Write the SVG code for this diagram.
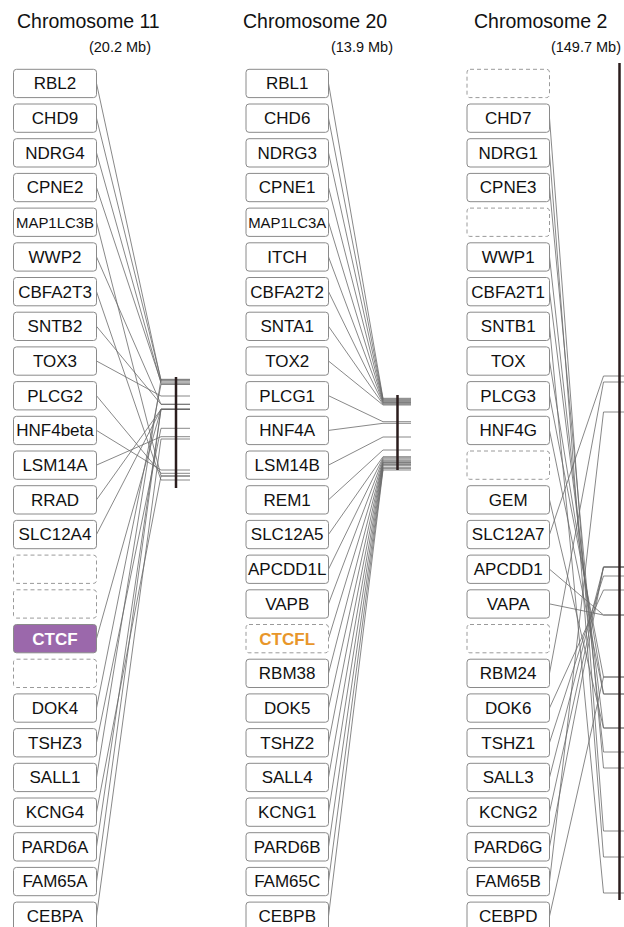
<svg xmlns="http://www.w3.org/2000/svg" width="624" height="927" viewBox="0 0 624 927">
<style>
.box{fill:#fff;stroke:#8a8a8a;stroke-width:1}
.dash{fill:#fff;stroke:#9a9a9a;stroke-width:1;stroke-dasharray:4 3}
.lbl{font-family:"Liberation Sans",Arial,sans-serif;font-size:17px;fill:#111;text-anchor:middle}
.title{font-family:"Liberation Sans",Arial,sans-serif;font-size:19.5px;fill:#111;text-anchor:start}
.sub{font-family:"Liberation Sans",Arial,sans-serif;font-size:14.5px;fill:#111;text-anchor:end}
.ln{fill:none;stroke:#6a6a6a;stroke-width:0.8}
.bar{stroke:#2b1d1d;stroke-width:2.5}
</style>
<g id="titles">
<text class="title" x="17" y="28">Chromosome 11</text>
<text class="sub" x="151" y="52">(20.2 Mb)</text>
<text class="title" x="243" y="28">Chromosome 20</text>
<text class="sub" x="393" y="52">(13.9 Mb)</text>
<text class="title" x="474" y="28">Chromosome 2</text>
<text class="sub" x="621" y="52">(149.7 Mb)</text>
</g>
<g id="connectors">
<!-- chr11 -->
<polyline class="ln" points="96.5,83.4 161,380.7 190,380.7"/>
<polyline class="ln" points="96.5,118.1 161,379.8 190,379.8"/>
<polyline class="ln" points="96.5,152.8 161,383.3 190,383.3"/>
<polyline class="ln" points="96.5,187.5 161,382 190,382"/>
<polyline class="ln" points="96.5,222.2 161,476 190,476"/>
<polyline class="ln" points="96.5,256.9 161,404.3 190,404.3"/>
<polyline class="ln" points="96.5,291.6 161,480 190,480"/>
<polyline class="ln" points="96.5,326.3 161,404.3 190,404.3"/>
<polyline class="ln" points="96.5,361 161,396 190,396"/>
<polyline class="ln" points="96.5,395.7 161,473.3 190,473.3"/>
<polyline class="ln" points="96.5,430.4 161,470 190,470"/>
<polyline class="ln" points="96.5,465.1 161,436.7 190,436.7"/>
<polyline class="ln" points="96.5,499.8 161,409.3 190,409.3"/>
<polyline class="ln" points="96.5,534.5 161,409.3 190,409.3"/>
<polyline class="ln" points="96.5,638.6 161,409.3 190,409.3"/>
<polyline class="ln" points="96.5,708 161,384.5 190,384.5"/>
<polyline class="ln" points="96.5,742.7 161,428.3 190,428.3"/>
<polyline class="ln" points="96.5,777.4 161,379.3 190,379.3"/>
<polyline class="ln" points="96.5,812.1 161,476 190,476"/>
<polyline class="ln" points="96.5,846.8 161,409.3 190,409.3"/>
<polyline class="ln" points="96.5,881.5 161,409.3 190,409.3"/>
<polyline class="ln" points="96.5,916.2 161,439 190,439"/>
<!-- chr20 -->
<polyline class="ln" points="328.5,83.4 383,398.3 411,398.3"/>
<polyline class="ln" points="328.5,118.1 383,399.2 411,399.2"/>
<polyline class="ln" points="328.5,152.8 383,400 411,400"/>
<polyline class="ln" points="328.5,187.5 383,400.8 411,400.8"/>
<polyline class="ln" points="328.5,222.2 383,401.7 411,401.7"/>
<polyline class="ln" points="328.5,256.9 383,402.5 411,402.5"/>
<polyline class="ln" points="328.5,291.6 383,403.3 411,403.3"/>
<polyline class="ln" points="328.5,326.3 383,404.2 411,404.2"/>
<polyline class="ln" points="328.5,361 383,405 411,405"/>
<polyline class="ln" points="328.5,395.7 383,421.7 411,421.7"/>
<polyline class="ln" points="328.5,430.4 383,423.3 411,423.3"/>
<polyline class="ln" points="328.5,465.1 383,437 411,437"/>
<polyline class="ln" points="328.5,499.8 383,450 411,450"/>
<polyline class="ln" points="328.5,534.5 383,456.7 411,456.7"/>
<polyline class="ln" points="328.5,569.2 383,457.8 411,457.8"/>
<polyline class="ln" points="328.5,603.9 383,459 411,459"/>
<polyline class="ln" points="328.5,638.6 383,460.3 411,460.3"/>
<polyline class="ln" points="328.5,673.3 383,461.7 411,461.7"/>
<polyline class="ln" points="328.5,708 383,462.5 411,462.5"/>
<polyline class="ln" points="328.5,742.7 383,463.3 411,463.3"/>
<polyline class="ln" points="328.5,777.4 383,464.5 411,464.5"/>
<polyline class="ln" points="328.5,812.1 383,465.7 411,465.7"/>
<polyline class="ln" points="328.5,846.8 383,467.3 411,467.3"/>
<polyline class="ln" points="328.5,881.5 383,468.6 411,468.6"/>
<polyline class="ln" points="328.5,916.2 383,470 411,470"/>
<!-- chr2 -->
<polyline class="ln" points="549.5,118.1 603.5,831 624,831"/>
<polyline class="ln" points="549.5,152.8 603.5,857 624,857"/>
<polyline class="ln" points="549.5,187.5 603.5,768 624,768"/>
<polyline class="ln" points="549.5,256.9 603.5,752 624,752"/>
<polyline class="ln" points="549.5,291.6 603.5,728 624,728"/>
<polyline class="ln" points="549.5,326.3 603.5,893 624,893"/>
<polyline class="ln" points="549.5,361 603.5,694 624,694"/>
<polyline class="ln" points="549.5,395.7 603.5,677 624,677"/>
<polyline class="ln" points="549.5,430.4 603.5,694 624,694"/>
<polyline class="ln" points="549.5,499.8 603.5,728 624,728"/>
<polyline class="ln" points="549.5,534.5 603.5,376 624,376"/>
<polyline class="ln" points="549.5,569.2 603.5,615 624,615"/>
<polyline class="ln" points="549.5,603.9 603.5,615 624,615"/>
<polyline class="ln" points="549.5,673.3 603.5,382 624,382"/>
<polyline class="ln" points="549.5,708 603.5,590 624,590"/>
<polyline class="ln" points="549.5,742.7 603.5,576 624,576"/>
<polyline class="ln" points="549.5,777.4 603.5,567 624,567"/>
<polyline class="ln" points="549.5,812.1 603.5,567 624,567"/>
<polyline class="ln" points="549.5,846.8 603.5,567 624,567"/>
<polyline class="ln" points="549.5,881.5 603.5,412 624,412"/>
<polyline class="ln" points="549.5,916.2 603.5,677 624,677"/>
</g>
<g id="bars">
<line class="bar" x1="176" y1="377" x2="176" y2="488"/>
<line class="bar" x1="397.5" y1="395" x2="397.5" y2="470"/>
<line class="bar" x1="619.5" y1="63" x2="619.5" y2="900"/>
</g>
<g id="chr11" class="lbl">
<g id="n11-RBL2" transform="translate(13.5,69.3)"><rect class="box" width="83" height="28.3" rx="3"/><text x="41.5" y="20">RBL2</text></g>
<g id="n11-CHD9" transform="translate(13.5,104)"><rect class="box" width="83" height="28.3" rx="3"/><text x="41.5" y="20">CHD9</text></g>
<g id="n11-NDRG4" transform="translate(13.5,138.7)"><rect class="box" width="83" height="28.3" rx="3"/><text x="41.5" y="20">NDRG4</text></g>
<g id="n11-CPNE2" transform="translate(13.5,173.4)"><rect class="box" width="83" height="28.3" rx="3"/><text x="41.5" y="20">CPNE2</text></g>
<g id="n11-MAP1LC3B" transform="translate(13.5,208.1)"><rect class="box" width="83" height="28.3" rx="3"/><text x="41.5" y="19.5" style="font-size:15px" textLength="78" lengthAdjust="spacingAndGlyphs">MAP1LC3B</text></g>
<g id="n11-WWP2" transform="translate(13.5,242.8)"><rect class="box" width="83" height="28.3" rx="3"/><text x="41.5" y="20">WWP2</text></g>
<g id="n11-CBFA2T3" transform="translate(13.5,277.5)"><rect class="box" width="83" height="28.3" rx="3"/><text x="41.5" y="20">CBFA2T3</text></g>
<g id="n11-SNTB2" transform="translate(13.5,312.2)"><rect class="box" width="83" height="28.3" rx="3"/><text x="41.5" y="20">SNTB2</text></g>
<g id="n11-TOX3" transform="translate(13.5,346.9)"><rect class="box" width="83" height="28.3" rx="3"/><text x="41.5" y="20">TOX3</text></g>
<g id="n11-PLCG2" transform="translate(13.5,381.6)"><rect class="box" width="83" height="28.3" rx="3"/><text x="41.5" y="20">PLCG2</text></g>
<g id="n11-HNF4beta" transform="translate(13.5,416.3)"><rect class="box" width="83" height="28.3" rx="3"/><text x="41.5" y="20">HNF4beta</text></g>
<g id="n11-LSM14A" transform="translate(13.5,451)"><rect class="box" width="83" height="28.3" rx="3"/><text x="41.5" y="20">LSM14A</text></g>
<g id="n11-RRAD" transform="translate(13.5,485.7)"><rect class="box" width="83" height="28.3" rx="3"/><text x="41.5" y="20">RRAD</text></g>
<g id="n11-SLC12A4" transform="translate(13.5,520.4)"><rect class="box" width="83" height="28.3" rx="3"/><text x="41.5" y="20">SLC12A4</text></g>
<g id="n11-e1" transform="translate(13.5,555.1)"><rect class="dash" width="83" height="28.3" rx="3"/></g>
<g id="n11-e2" transform="translate(13.5,589.8)"><rect class="dash" width="83" height="28.3" rx="3"/></g>
<g id="n11-CTCF" transform="translate(13.5,624.5)"><rect width="83" height="28.3" rx="3" fill="#9b68ab" stroke="#8a8a8a"/><text x="41.5" y="20" fill="#fff" font-weight="bold">CTCF</text></g>
<g id="n11-e3" transform="translate(13.5,659.2)"><rect class="dash" width="83" height="28.3" rx="3"/></g>
<g id="n11-DOK4" transform="translate(13.5,693.9)"><rect class="box" width="83" height="28.3" rx="3"/><text x="41.5" y="20">DOK4</text></g>
<g id="n11-TSHZ3" transform="translate(13.5,728.6)"><rect class="box" width="83" height="28.3" rx="3"/><text x="41.5" y="20">TSHZ3</text></g>
<g id="n11-SALL1" transform="translate(13.5,763.3)"><rect class="box" width="83" height="28.3" rx="3"/><text x="41.5" y="20">SALL1</text></g>
<g id="n11-KCNG4" transform="translate(13.5,798)"><rect class="box" width="83" height="28.3" rx="3"/><text x="41.5" y="20">KCNG4</text></g>
<g id="n11-PARD6A" transform="translate(13.5,832.7)"><rect class="box" width="83" height="28.3" rx="3"/><text x="41.5" y="20">PARD6A</text></g>
<g id="n11-FAM65A" transform="translate(13.5,867.4)"><rect class="box" width="83" height="28.3" rx="3"/><text x="41.5" y="20">FAM65A</text></g>
<g id="n11-CEBPA" transform="translate(13.5,902.1)"><rect class="box" width="83" height="28.3" rx="3"/><text x="41.5" y="20">CEBPA</text></g>
</g>
<g id="chr20" class="lbl">
<g id="n20-RBL1" transform="translate(246,69.3)"><rect class="box" width="82.5" height="28.3" rx="3"/><text x="41.2" y="20">RBL1</text></g>
<g id="n20-CHD6" transform="translate(246,104)"><rect class="box" width="82.5" height="28.3" rx="3"/><text x="41.2" y="20">CHD6</text></g>
<g id="n20-NDRG3" transform="translate(246,138.7)"><rect class="box" width="82.5" height="28.3" rx="3"/><text x="41.2" y="20">NDRG3</text></g>
<g id="n20-CPNE1" transform="translate(246,173.4)"><rect class="box" width="82.5" height="28.3" rx="3"/><text x="41.2" y="20">CPNE1</text></g>
<g id="n20-MAP1LC3A" transform="translate(246,208.1)"><rect class="box" width="82.5" height="28.3" rx="3"/><text x="41.2" y="19.5" style="font-size:15px" textLength="78" lengthAdjust="spacingAndGlyphs">MAP1LC3A</text></g>
<g id="n20-ITCH" transform="translate(246,242.8)"><rect class="box" width="82.5" height="28.3" rx="3"/><text x="41.2" y="20">ITCH</text></g>
<g id="n20-CBFA2T2" transform="translate(246,277.5)"><rect class="box" width="82.5" height="28.3" rx="3"/><text x="41.2" y="20">CBFA2T2</text></g>
<g id="n20-SNTA1" transform="translate(246,312.2)"><rect class="box" width="82.5" height="28.3" rx="3"/><text x="41.2" y="20">SNTA1</text></g>
<g id="n20-TOX2" transform="translate(246,346.9)"><rect class="box" width="82.5" height="28.3" rx="3"/><text x="41.2" y="20">TOX2</text></g>
<g id="n20-PLCG1" transform="translate(246,381.6)"><rect class="box" width="82.5" height="28.3" rx="3"/><text x="41.2" y="20">PLCG1</text></g>
<g id="n20-HNF4A" transform="translate(246,416.3)"><rect class="box" width="82.5" height="28.3" rx="3"/><text x="41.2" y="20">HNF4A</text></g>
<g id="n20-LSM14B" transform="translate(246,451)"><rect class="box" width="82.5" height="28.3" rx="3"/><text x="41.2" y="20">LSM14B</text></g>
<g id="n20-REM1" transform="translate(246,485.7)"><rect class="box" width="82.5" height="28.3" rx="3"/><text x="41.2" y="20">REM1</text></g>
<g id="n20-SLC12A5" transform="translate(246,520.4)"><rect class="box" width="82.5" height="28.3" rx="3"/><text x="41.2" y="20">SLC12A5</text></g>
<g id="n20-APCDD1L" transform="translate(246,555.1)"><rect class="box" width="82.5" height="28.3" rx="3"/><text x="41.2" y="20">APCDD1L</text></g>
<g id="n20-VAPB" transform="translate(246,589.8)"><rect class="box" width="82.5" height="28.3" rx="3"/><text x="41.2" y="20">VAPB</text></g>
<g id="n20-CTCFL" transform="translate(246,624.5)"><rect class="dash" width="82.5" height="28.3" rx="3"/><text x="41.2" y="20" fill="#e8962a" font-weight="bold">CTCFL</text></g>
<g id="n20-RBM38" transform="translate(246,659.2)"><rect class="box" width="82.5" height="28.3" rx="3"/><text x="41.2" y="20">RBM38</text></g>
<g id="n20-DOK5" transform="translate(246,693.9)"><rect class="box" width="82.5" height="28.3" rx="3"/><text x="41.2" y="20">DOK5</text></g>
<g id="n20-TSHZ2" transform="translate(246,728.6)"><rect class="box" width="82.5" height="28.3" rx="3"/><text x="41.2" y="20">TSHZ2</text></g>
<g id="n20-SALL4" transform="translate(246,763.3)"><rect class="box" width="82.5" height="28.3" rx="3"/><text x="41.2" y="20">SALL4</text></g>
<g id="n20-KCNG1" transform="translate(246,798)"><rect class="box" width="82.5" height="28.3" rx="3"/><text x="41.2" y="20">KCNG1</text></g>
<g id="n20-PARD6B" transform="translate(246,832.7)"><rect class="box" width="82.5" height="28.3" rx="3"/><text x="41.2" y="20">PARD6B</text></g>
<g id="n20-FAM65C" transform="translate(246,867.4)"><rect class="box" width="82.5" height="28.3" rx="3"/><text x="41.2" y="20">FAM65C</text></g>
<g id="n20-CEBPB" transform="translate(246,902.1)"><rect class="box" width="82.5" height="28.3" rx="3"/><text x="41.2" y="20">CEBPB</text></g>
</g>
<g id="chr2" class="lbl">
<g id="n2-e1" transform="translate(467,69.3)"><rect class="dash" width="82.5" height="28.3" rx="3"/></g>
<g id="n2-CHD7" transform="translate(467,104)"><rect class="box" width="82.5" height="28.3" rx="3"/><text x="41.2" y="20">CHD7</text></g>
<g id="n2-NDRG1" transform="translate(467,138.7)"><rect class="box" width="82.5" height="28.3" rx="3"/><text x="41.2" y="20">NDRG1</text></g>
<g id="n2-CPNE3" transform="translate(467,173.4)"><rect class="box" width="82.5" height="28.3" rx="3"/><text x="41.2" y="20">CPNE3</text></g>
<g id="n2-e2" transform="translate(467,208.1)"><rect class="dash" width="82.5" height="28.3" rx="3"/></g>
<g id="n2-WWP1" transform="translate(467,242.8)"><rect class="box" width="82.5" height="28.3" rx="3"/><text x="41.2" y="20">WWP1</text></g>
<g id="n2-CBFA2T1" transform="translate(467,277.5)"><rect class="box" width="82.5" height="28.3" rx="3"/><text x="41.2" y="20">CBFA2T1</text></g>
<g id="n2-SNTB1" transform="translate(467,312.2)"><rect class="box" width="82.5" height="28.3" rx="3"/><text x="41.2" y="20">SNTB1</text></g>
<g id="n2-TOX" transform="translate(467,346.9)"><rect class="box" width="82.5" height="28.3" rx="3"/><text x="41.2" y="20">TOX</text></g>
<g id="n2-PLCG3" transform="translate(467,381.6)"><rect class="box" width="82.5" height="28.3" rx="3"/><text x="41.2" y="20">PLCG3</text></g>
<g id="n2-HNF4G" transform="translate(467,416.3)"><rect class="box" width="82.5" height="28.3" rx="3"/><text x="41.2" y="20">HNF4G</text></g>
<g id="n2-e3" transform="translate(467,451)"><rect class="dash" width="82.5" height="28.3" rx="3"/></g>
<g id="n2-GEM" transform="translate(467,485.7)"><rect class="box" width="82.5" height="28.3" rx="3"/><text x="41.2" y="20">GEM</text></g>
<g id="n2-SLC12A7" transform="translate(467,520.4)"><rect class="box" width="82.5" height="28.3" rx="3"/><text x="41.2" y="20">SLC12A7</text></g>
<g id="n2-APCDD1" transform="translate(467,555.1)"><rect class="box" width="82.5" height="28.3" rx="3"/><text x="41.2" y="20">APCDD1</text></g>
<g id="n2-VAPA" transform="translate(467,589.8)"><rect class="box" width="82.5" height="28.3" rx="3"/><text x="41.2" y="20">VAPA</text></g>
<g id="n2-e4" transform="translate(467,624.5)"><rect class="dash" width="82.5" height="28.3" rx="3"/></g>
<g id="n2-RBM24" transform="translate(467,659.2)"><rect class="box" width="82.5" height="28.3" rx="3"/><text x="41.2" y="20">RBM24</text></g>
<g id="n2-DOK6" transform="translate(467,693.9)"><rect class="box" width="82.5" height="28.3" rx="3"/><text x="41.2" y="20">DOK6</text></g>
<g id="n2-TSHZ1" transform="translate(467,728.6)"><rect class="box" width="82.5" height="28.3" rx="3"/><text x="41.2" y="20">TSHZ1</text></g>
<g id="n2-SALL3" transform="translate(467,763.3)"><rect class="box" width="82.5" height="28.3" rx="3"/><text x="41.2" y="20">SALL3</text></g>
<g id="n2-KCNG2" transform="translate(467,798)"><rect class="box" width="82.5" height="28.3" rx="3"/><text x="41.2" y="20">KCNG2</text></g>
<g id="n2-PARD6G" transform="translate(467,832.7)"><rect class="box" width="82.5" height="28.3" rx="3"/><text x="41.2" y="20">PARD6G</text></g>
<g id="n2-FAM65B" transform="translate(467,867.4)"><rect class="box" width="82.5" height="28.3" rx="3"/><text x="41.2" y="20">FAM65B</text></g>
<g id="n2-CEBPD" transform="translate(467,902.1)"><rect class="box" width="82.5" height="28.3" rx="3"/><text x="41.2" y="20">CEBPD</text></g>
</g>
</svg>
